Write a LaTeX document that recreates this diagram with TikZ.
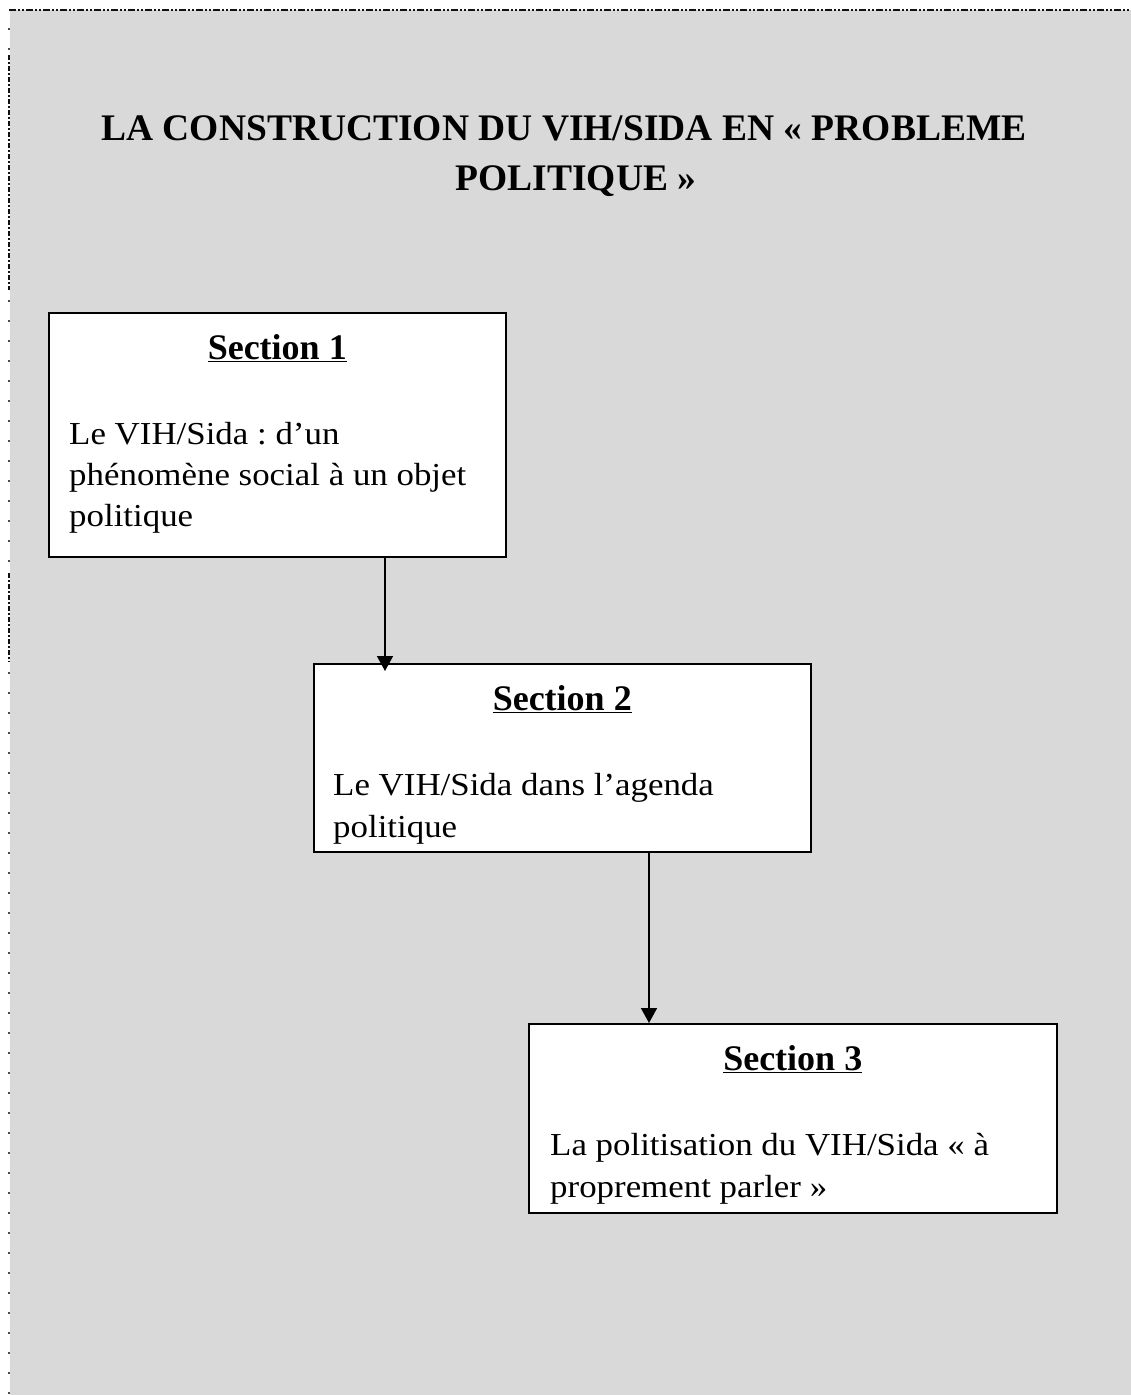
\documentclass[tikz,border=0pt]{standalone}
\usepackage{fontspec}
\setmainfont{Liberation Serif}
\newfontfamily\bodyfont{Liberation Serif}[FakeStretch=1.09]
\usetikzlibrary{arrows.meta,calc}
\definecolor{bggray}{HTML}{D9D9D9}
\definecolor{framecol}{HTML}{111111}
\frenchspacing
\tikzset{
  stagebox/.style={draw=black, line width=1.5pt, fill=white, rectangle, inner sep=0pt, anchor=north west},
  headtxt/.style={anchor=base, inner sep=0pt, font=\fontsize{36}{44}\selectfont\bfseries},
  bodytxt/.style={anchor=base west, inner sep=0pt, font=\bodyfont\fontsize{32}{42}\selectfont},
  titletxt/.style={anchor=base, inner sep=0pt, font=\fontsize{37.5}{50}\selectfont\bfseries},
  flowarrow/.style={line width=1.5pt, -{Triangle[width=16pt,length=15pt]}},
  densedash/.style={draw=framecol, line width=2.5pt, dash pattern=on 5pt off 2pt on 2pt off 2pt},
  sparsedot/.style={draw=framecol!75, line width=2pt, dash pattern=on 2pt off 18pt},
  topdash/.style={draw=framecol, line width=1.5pt, dash pattern=on 7pt off 2pt on 2pt off 2pt on 2pt off 2pt}
}
\begin{document}
\begin{tikzpicture}[x=1pt,y=-1pt]
\useasboundingbox (0,0) rectangle (1131,1395);
% background
\fill[white] (0,0) rectangle (1131,1395);
\fill[bggray] (9.5,10) rectangle (1131,1395);
% frame
\draw[topdash] (9,10) -- (1131,10);
\draw[sparsedot] (9,28) -- (9,55);
\draw[densedash] (9,55) -- (9,290);
\draw[sparsedot] (9,300) -- (9,573);
\draw[densedash] (9,573) -- (9,662);
\draw[sparsedot] (9,672) -- (9,1395);
% title
\node[titletxt] (t1) at (564,140) {LA CONSTRUCTION DU VIH/SIDA EN « PROBLEME};
\node[titletxt] (t2) at (576,190) {POLITIQUE »};
% boxes
\node[stagebox, minimum width=457pt, minimum height=244pt] (b1) at (48,312) {};
\node[stagebox, minimum width=497pt, minimum height=188pt] (b2) at (313,663) {};
\node[stagebox, minimum width=528pt, minimum height=189pt] (b3) at (528,1023) {};
% box 1 text
\node[headtxt] (h1) at ($(b1.north)+(0,47)$) {\underline{Section 1}};
\node[bodytxt] (p1a) at ($(b1.north west)+(21,132)$) {Le VIH/Sida : d’un};
\node[bodytxt] (p1b) at ($(b1.north west)+(21,173)$) {phénomène social à un objet};
\node[bodytxt] (p1c) at ($(b1.north west)+(21,214)$) {politique};
% box 2 text
\node[headtxt] (h2) at ($(b2.north)+(0,47)$) {\underline{Section 2}};
\node[bodytxt] (p2a) at ($(b2.north west)+(20,132)$) {Le VIH/Sida dans l’agenda};
\node[bodytxt] (p2b) at ($(b2.north west)+(20,174)$) {politique};
% box 3 text
\node[headtxt] (h3) at ($(b3.north)+(0,47)$) {\underline{Section 3}};
\node[bodytxt] (p3a) at ($(b3.north west)+(22,132)$) {La politisation du VIH/Sida « à};
\node[bodytxt] (p3b) at ($(b3.north west)+(22,174)$) {proprement parler »};
% arrows
\draw[flowarrow] ($(b1.south west)+(337,0)$) -- ($(b2.north west)+(72,8)$);
\draw[flowarrow] ($(b2.south west)+(336,0)$) -- ($(b3.north west)+(121,0)$);
\end{tikzpicture}
\end{document}
